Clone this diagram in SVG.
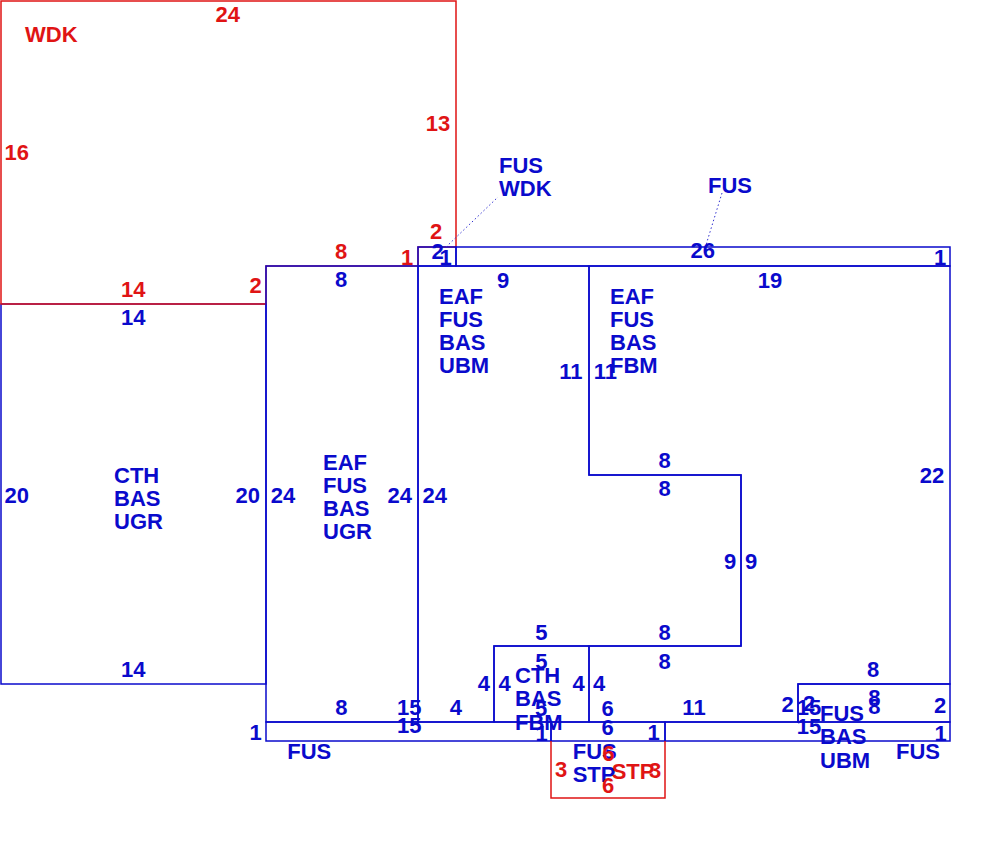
<svg xmlns="http://www.w3.org/2000/svg" width="1000" height="860" viewBox="0 0 1000 860">
<style>
.b{fill:none;stroke:#0a0acc;stroke-width:1.5}
.r{fill:none;stroke:#e01414;stroke-width:1.5}
text{font-family:"Liberation Sans",Arial,sans-serif;font-weight:bold;font-size:22px}
.tb{fill:#0a0acc}
.tr{fill:#e01414}
.m{text-anchor:middle}
.lead{fill:none;stroke:#3030d0;stroke-width:1;stroke-dasharray:1.5 2.5}
</style>
<rect width="1000" height="860" fill="#ffffff"/>

<g id="cth-bas-ugr">
<rect class="b" x="1" y="304" width="265" height="380"/>
<g class="tb">
<text class="m" x="133.3" y="325">14</text>
<text class="m" x="133.3" y="677">14</text>
<text class="m" x="16.7" y="502.6">20</text>
<text class="m" x="247.7" y="502.6">20</text>
<text x="114" y="482.6">CTH<tspan x="114" dy="23">BAS</tspan><tspan x="114" dy="23">UGR</tspan></text>
</g>
</g>

<g id="wdk">
<path class="r" d="M1,1 H456 V247 H418 V266 H266 V304 H1 Z"/>
<g class="tr">
<text x="25" y="42">WDK</text>
<text class="m" x="227.7" y="22">24</text>
<text class="m" x="16.7" y="159.6">16</text>
<text class="m" x="438" y="131.2">13</text>
<text class="m" x="436" y="239.2">2</text>
<text class="m" x="407" y="265">1</text>
<text class="m" x="341" y="259">8</text>
<text class="m" x="255.5" y="293.4">2</text>
<text class="m" x="133.3" y="296.6">14</text>
</g>
</g>

<g id="eaf-fus-bas-ugr">
<rect class="b" x="266" y="266" width="152" height="456"/>
<g class="tb">
<text class="m" x="341" y="287.4">8</text>
<text class="m" x="341.3" y="715">8</text>
<text class="m" x="283" y="502.6">24</text>
<text class="m" x="399.7" y="502.6">24</text>
<text x="323" y="470.4">EAF<tspan x="323" dy="23">FUS</tspan><tspan x="323" dy="23">BAS</tspan><tspan x="323" dy="23">UGR</tspan></text>
</g>
</g>

<g id="eaf-fus-bas-ubm">
<path class="b" d="M418,266 H589 V475 H741 V646 H494 V722 H418 Z"/>
<g class="tb">
<text class="m" x="503" y="287.6">9</text>
<text class="m" x="570.8" y="379.2">11</text>
<text class="m" x="664.5" y="496.2">8</text>
<text class="m" x="730" y="569">9</text>
<text class="m" x="664.7" y="640.4">8</text>
<text class="m" x="541.3" y="640.4">5</text>
<text class="m" x="483.8" y="691.4">4</text>
<text class="m" x="455.8" y="714.6">4</text>
<text class="m" x="434.7" y="502.6">24</text>
<text x="439" y="303.6">EAF<tspan x="439" dy="23">FUS</tspan><tspan x="439" dy="23">BAS</tspan><tspan x="439" dy="23">UBM</tspan></text>
</g>
</g>

<g id="eaf-fus-bas-fbm">
<path class="b" d="M589,266 H950 V684 H798 V722 H589 V646 H741 V475 H589 Z"/>
<g class="tb">
<text class="m" x="770" y="288">19</text>
<text class="m" x="932" y="483">22</text>
<text class="m" x="873" y="677">8</text>
<text class="m" x="787.7" y="712">2</text>
<text class="m" x="694" y="715">11</text>
<text class="m" x="599.2" y="691.4">4</text>
<text class="m" x="664.7" y="668.7">8</text>
<text class="m" x="751" y="569">9</text>
<text class="m" x="664.5" y="468">8</text>
<text class="m" x="605.3" y="379.2">11</text>
<text x="610" y="303.6">EAF<tspan x="610" dy="23">FUS</tspan><tspan x="610" dy="23">BAS</tspan><tspan x="610" dy="23">FBM</tspan></text>
</g>
</g>

<g id="cth-bas-fbm">
<rect class="b" x="494" y="646" width="95" height="76"/>
<g class="tb">
<text class="m" x="541.3" y="668.7">5</text>
<text class="m" x="504.5" y="691.4">4</text>
<text class="m" x="578.7" y="691.4">4</text>
<text class="m" x="541" y="716">5</text>
<text x="515" y="682.9">CTH<tspan x="515" dy="23.3">BAS</tspan><tspan x="515" dy="23.3">FBM</tspan></text>
</g>
</g>

<g id="fus-wdk">
<rect class="b" x="418" y="247" width="38" height="19"/>
<g class="tb">
<text class="m" x="437.5" y="258.7">2</text>
<text class="m" x="445.5" y="264.6">1</text>
<text x="499" y="173">FUS<tspan x="499" dy="23.3">WDK</tspan></text>
</g>
</g>

<g id="fus-top">
<rect class="b" x="456" y="247" width="494" height="19"/>
<g class="tb">
<text class="m" x="702.7" y="258.2">26</text>
<text class="m" x="940" y="265">1</text>
<text x="708" y="193">FUS</text>
</g>
</g>

<g id="fus-bottom-left">
<rect class="b" x="266" y="722" width="285" height="19"/>
<g class="tb">
<text class="m" x="409.3" y="714.6">15</text>
<text class="m" x="409.3" y="733.2">15</text>
<text class="m" x="255.5" y="740.4">1</text>
<text class="m" x="541.7" y="741">1</text>
<text x="287.3" y="759.2">FUS</text>
</g>
</g>

<g id="fus-bottom-right">
<rect class="b" x="665" y="722" width="285" height="19"/>
<g class="tb">
<text class="m" x="809" y="715">15</text>
<text class="m" x="809" y="734">15</text>
<text class="m" x="940.5" y="741">1</text>
<text x="896" y="759">FUS</text>
</g>
</g>

<g id="fus-bas-ubm">
<rect class="b" x="798" y="684" width="152" height="38"/>
<g class="tb">
<text class="m" x="874.3" y="705">8</text>
<text class="m" x="874.3" y="714">8</text>
<text class="m" x="940" y="712.6">2</text>
<text class="m" x="809" y="711">2</text>
<text x="820" y="720.6">FUS<tspan x="820" dy="23.6">BAS</tspan><tspan x="820" dy="23.6">UBM</tspan></text>
</g>
</g>

<g id="fus-stp">
<rect class="b" x="551" y="722" width="114" height="19"/>
<g class="tb">
<text class="m" x="607.5" y="716.2">6</text>
<text class="m" x="607.5" y="735.1">6</text>
<text class="m" x="653.5" y="739.6">1</text>
<text x="572.7" y="758.7">FUS<tspan x="572.7" dy="23.4">STP</tspan></text>
</g>
</g>

<g id="stp">
<path class="r" d="M551,741 V798 H665 V741"/>
<g class="tr">
<text class="m" x="561" y="777.4">3</text>
<text class="m" x="608.3" y="761.2">6</text>
<text class="m" x="608" y="793">6</text>
<text class="m" x="655" y="778">3</text>
<text x="611.7" y="779.2">STP</text>
</g>
</g>

<g id="connectors">
<line class="lead" x1="446" y1="247" x2="498" y2="197"/>
<line class="lead" x1="722" y1="193" x2="706" y2="245"/>
</g>
</svg>
